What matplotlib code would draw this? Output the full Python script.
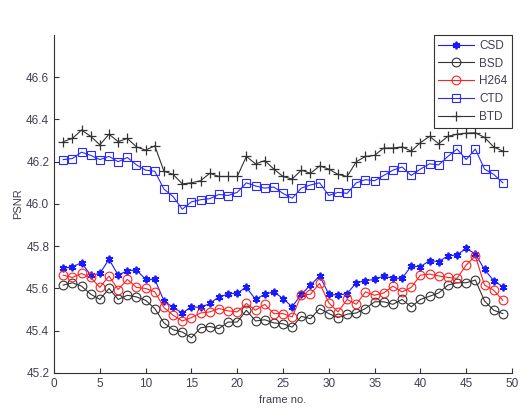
import numpy as np
import matplotlib
matplotlib.use('Agg')
import matplotlib.pyplot as plt

plt.rcParams['font.family'] = ['Liberation Sans', 'DejaVu Sans']

# frame numbers 1..49
frames = list(range(1, 50))

csd = [45.695, 45.703, 45.722, 45.663, 45.671, 45.738, 45.663, 45.684, 45.687, 45.643,
       45.643, 45.541, 45.510, 45.484, 45.513, 45.510, 45.529, 45.560, 45.573, 45.579,
       45.605, 45.548, 45.573, 45.584, 45.552, 45.513, 45.573, 45.616, 45.659, 45.573,
       45.568, 45.576, 45.627, 45.637, 45.643, 45.659, 45.648, 45.648, 45.706, 45.703,
       45.732, 45.727, 45.754, 45.759, 45.790, 45.763, 45.690, 45.637, 45.608]

bsd = [45.616, 45.627, 45.611, 45.573, 45.548, 45.600, 45.548, 45.568, 45.560, 45.544,
       45.505, 45.437, 45.405, 45.394, 45.367, 45.414, 45.420, 45.410, 45.441, 45.441,
       45.497, 45.446, 45.452, 45.437, 45.433, 45.417, 45.468, 45.457, 45.505, 45.481,
       45.462, 45.478, 45.484, 45.505, 45.537, 45.537, 45.525, 45.548, 45.513, 45.548,
       45.563, 45.579, 45.616, 45.627, 45.627, 45.640, 45.541, 45.497, 45.481]

h264 = [45.663, 45.652, 45.671, 45.652, 45.605, 45.659, 45.595, 45.643, 45.605, 45.600,
        45.584, 45.510, 45.473, 45.446, 45.462, 45.484, 45.489, 45.505, 45.494, 45.489,
        45.529, 45.497, 45.525, 45.481, 45.481, 45.465, 45.568, 45.573, 45.624, 45.532,
        45.489, 45.548, 45.525, 45.584, 45.568, 45.579, 45.611, 45.584, 45.605, 45.663,
        45.668, 45.659, 45.652, 45.648, 45.711, 45.754, 45.616, 45.592, 45.544]

ctd = [46.210, 46.215, 46.245, 46.230, 46.210, 46.225, 46.200, 46.220, 46.185, 46.160,
       46.155, 46.070, 46.035, 45.975, 46.010, 46.020, 46.025, 46.045, 46.040, 46.055,
       46.100, 46.085, 46.075, 46.080, 46.050, 46.027, 46.075, 46.090, 46.100, 46.040,
       46.055, 46.050, 46.100, 46.115, 46.110, 46.135, 46.160, 46.175, 46.135, 46.165,
       46.190, 46.185, 46.225, 46.260, 46.210, 46.260, 46.165, 46.140, 46.100]

btd = [46.295, 46.310, 46.350, 46.320, 46.280, 46.330, 46.295, 46.310, 46.270, 46.255,
       46.275, 46.155, 46.140, 46.095, 46.100, 46.110, 46.145, 46.130, 46.130, 46.130,
       46.225, 46.190, 46.205, 46.165, 46.130, 46.118, 46.160, 46.145, 46.180, 46.165,
       46.140, 46.130, 46.200, 46.225, 46.230, 46.265, 46.265, 46.270, 46.250, 46.290,
       46.320, 46.285, 46.320, 46.330, 46.335, 46.337, 46.315, 46.270, 46.250]

labels = ['CSD', 'BSD', 'H264', 'CTD', 'BTD']
xticks = [0, 5, 10, 15, 20, 25, 30, 35, 40, 45, 50]
yticks = [45.2, 45.4, 45.6, 45.8, 46.0, 46.2, 46.4, 46.6]

fig = plt.figure(figsize=(5.30, 4.11), dpi=100)
ax = fig.add_axes([0.102, 0.0925, 0.864, 0.8225])

lw = 0.8
ax.plot(frames, csd, '-', color='#1a1aff', lw=lw, marker=(6, 2, 0), ms=5.5,
        mew=1.3, label=labels[0])
ax.plot(frames, bsd, '-', color='#333333', lw=lw, marker='o', ms=6.3,
        mfc='none', mew=0.8, label=labels[1])
ax.plot(frames, h264, '-', color='#ff2020', lw=lw, marker='o', ms=6.3,
        mfc='none', mew=0.8, label=labels[2])
ax.plot(frames, ctd, '-', color='#2a2aff', lw=lw, marker='s', ms=6.3,
        mfc='none', mew=0.8, label=labels[3])
ax.plot(frames, btd, '-', color='#333333', lw=lw, marker='+', ms=7,
        mew=0.9, label=labels[4])

ax.set_xlim(0, 50)
ax.set_ylim(45.2, 46.8)
ax.set_xticks(xticks)
ax.set_yticks(yticks)
ax.set_yticklabels(['%.1f' % v for v in yticks])

tc = '#404050'
ax.tick_params(direction='in', length=3.5, width=0.8, labelsize=8.5, colors='#333333',
               labelcolor=tc)
for s in ['top', 'right']:
    ax.spines[s].set_visible(False)
for s in ['left', 'bottom']:
    ax.spines[s].set_color('#333333')
    ax.spines[s].set_linewidth(0.8)

ax.set_xlabel('frame no.', fontsize=8, color=tc, labelpad=4)
ax.set_ylabel('PSNR', fontsize=8, color=tc, labelpad=2)

leg = ax.legend(loc='upper right', bbox_to_anchor=(1.0, 1.0), fontsize=8.5,
                fancybox=False, edgecolor='#333333', framealpha=1,
                handlelength=3.0, labelspacing=0.5, borderpad=0.4,
                handletextpad=0.45, borderaxespad=0)
leg.get_frame().set_linewidth(0.8)
for t in leg.get_texts():
    t.set_color(tc)

fig.savefig('out.png', dpi=100)
